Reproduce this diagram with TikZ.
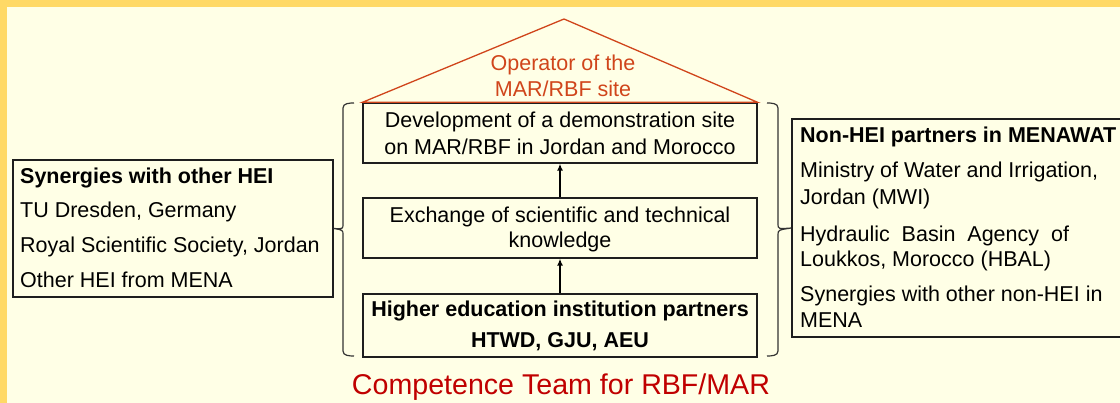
\documentclass[tikz,border=0pt]{standalone}
\usepackage{fontspec}
\setmainfont{Liberation Sans}
\usetikzlibrary{arrows.meta}
\definecolor{frameyellow}{HTML}{FFD966}
\definecolor{cream}{HTML}{FFFFE6}
\definecolor{roofred}{HTML}{D0451B}
\definecolor{teamred}{HTML}{C00000}
\definecolor{boxline}{HTML}{1E1E1E}
\definecolor{brkline}{HTML}{333333}
\begin{document}
\begin{tikzpicture}[x=1pt,y=-1pt,
  box/.style={draw=boxline,line width=1.3pt,rectangle,inner sep=0pt},
  txt/.style={inner sep=0pt,font=\fontsize{21.5}{26}\selectfont,text=black},
  btxt/.style={txt,font=\fontsize{21.5}{26}\selectfont\bfseries},
  brk/.style={draw=brkline,line width=1.2pt},
  arr/.style={draw=black,line width=1.6pt,-{Latex[length=7pt,width=6pt]}}]
\useasboundingbox (0,0) rectangle (1120,403);
\clip (0,0) rectangle (1120,403);
\fill[frameyellow] (0,0) rectangle (1120,403);
\fill[cream] (7,7) rectangle (1125,410);

% central boxes
\node[box,minimum width=394pt,minimum height=60pt] (b1) at (560,133) {};
\node[box,minimum width=394pt,minimum height=60pt] (b2) at (560,228) {};
\node[box,minimum width=394pt,minimum height=63pt] (b3) at (560,325.5) {};

\node[txt,anchor=base] (t1a) at (560,128) {Development of a demonstration site};
\node[txt,anchor=base] (t1b) at (560,155) {on MAR/RBF in Jordan and Morocco};
\node[txt,anchor=base] (t2a) at (560,223) {Exchange of scientific and technical};
\node[txt,anchor=base] (t2b) at (560,248) {knowledge};
\node[btxt,anchor=base] (t3a) at (560,317) {Higher education institution partners};
\node[btxt,anchor=base] (t3b) at (560,348) {HTWD, GJU, AEU};

\draw[arr] (b2.north) -- (b1.south);
\draw[arr] (b3.north) -- (b2.south);

% roof
\coordinate (apex) at (564,19);
\draw[roofred,line width=1.3pt] (b1.north west) -- (apex) -- (b1.north east) -- cycle;
\node[txt,anchor=base,text=roofred] (r1) at (563,71) {Operator of the};
\node[txt,anchor=base,text=roofred] (r2) at (563,97) {MAR/RBF site};

% left box
\node[box,minimum width=320pt,minimum height=137pt] (lbox) at (173,228.5) {};
\node[btxt,anchor=base west] (l1) at (20,184) {Synergies with other HEI};
\node[txt,anchor=base west] (l2) at (20,218) {TU Dresden, Germany};
\node[txt,anchor=base west] (l3) at (20,253) {Royal Scientific Society, Jordan};
\node[txt,anchor=base west] (l4) at (20,288) {Other HEI from MENA};

% right box
\node[box,minimum width=336pt,minimum height=218pt] (rbox) at (960,228) {};
\node[btxt,anchor=base west] (rr1) at (800,143) {Non-HEI partners in MENAWAT};
\node[txt,anchor=base west] (rr2) at (800,178) {Ministry of Water and Irrigation,};
\node[txt,anchor=base west] (rr3) at (800,205) {Jordan (MWI)};
\node[txt,anchor=base west] (rr4) at (800,242) {Hydraulic\ \ Basin\ \ Agency\ \ of};
\node[txt,anchor=base west] (rr5) at (800,267) {Loukkos, Morocco (HBAL)};
\node[txt,anchor=base west] (rr6) at (800,302) {Synergies with other non-HEI in};
\node[txt,anchor=base west] (rr7) at (800,328) {MENA};

% brackets
\draw[brk] (354,103) to[out=180,in=90] (343,108) -- (343,224)
  .. controls (343,229) .. (lbox.east)
  .. controls (343,230) .. (343,235) -- (343,351) to[out=-90,in=180] (354,356);
\draw[brk] (767,103) to[out=0,in=90] (778,108) -- (778,224)
  .. controls (778,229) .. (rbox.west)
  .. controls (778,230) .. (778,235) -- (778,351) to[out=-90,in=0] (767,356);

% title
\node[inner sep=0pt,anchor=base,font=\fontsize{28.6}{34}\selectfont,text=teamred] (team) at (561,395) {Competence Team for RBF/MAR};
\end{tikzpicture}
\end{document}
